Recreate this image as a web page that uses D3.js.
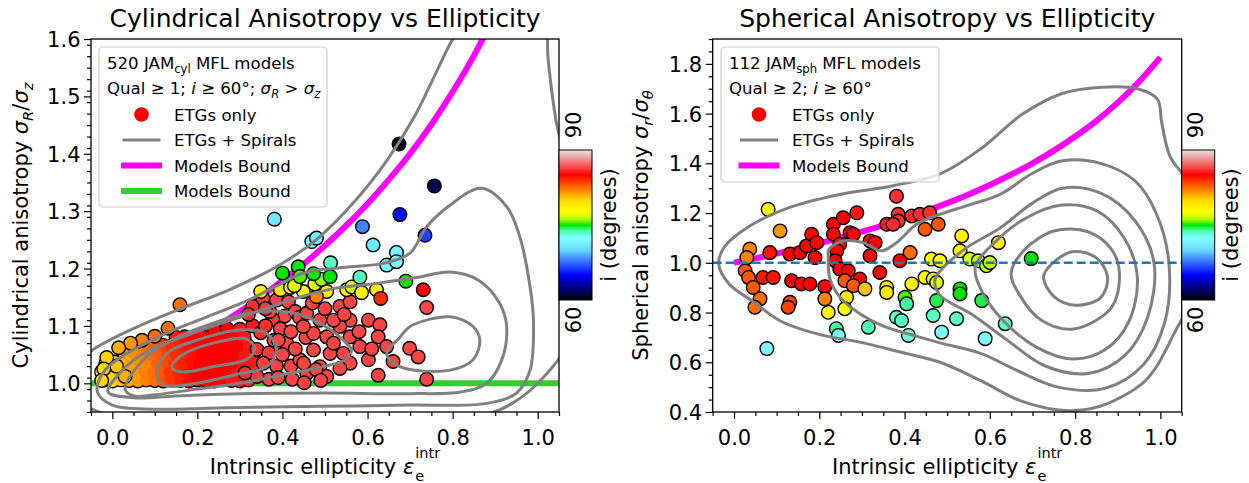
<!DOCTYPE html>
<html><head><meta charset="utf-8">
<script src="https://cdn.jsdelivr.net/npm/d3@7/dist/d3.min.js"></script>
<style>
html,body{margin:0;padding:0;background:#fff;}
text{font-family:"DejaVu Sans",sans-serif;fill:#000;}
</style></head>
<body><svg id="chart" width="1249" height="483" xmlns="http://www.w3.org/2000/svg"></svg>
<script>
// ---------------- DATA ----------------
const xTickVals = [0.0, 0.2, 0.4, 0.6, 0.8, 1.0];
const cylYTicks = [1.0, 1.1, 1.2, 1.3, 1.4, 1.5, 1.6];
const sphYTicks = [0.4, 0.6, 0.8, 1.0, 1.2, 1.4, 1.6, 1.8];
const cbarTicks = [60, 90];

// "sauron" colour map (inclination 60..90 deg)
const cmapPos = [1.0, 43.5, 86.0, 106.0, 118.5, 128.5, 138.5, 151.0, 171.0, 213.5, 256.0];
const cmapR = [0.01, 0.0, 0.4, 0.5, 0.3, 0.0, 0.7, 1.0, 1.0, 1.0, 0.9];
const cmapG = [0.01, 0.0, 0.85, 1.0, 1.0, 0.9, 1.0, 1.0, 0.85, 0.0, 0.9];
const cmapB = [0.01, 1.0, 1.0, 1.0, 0.7, 0.0, 0.0, 0.0, 0.0, 0.0, 0.9];

// Models bound curve
const boundEps   = [0.00, 0.05, 0.10, 0.15, 0.20, 0.25, 0.30, 0.35, 0.40, 0.45, 0.50, 0.55, 0.60, 0.65, 0.70, 0.75, 0.80, 0.85, 0.90, 0.95, 1.00];
const boundRatio = [1.000, 1.018, 1.037, 1.057, 1.078, 1.101, 1.125, 1.151, 1.179, 1.208, 1.240, 1.275, 1.313, 1.355, 1.400, 1.451, 1.508, 1.571, 1.644, 1.728, 1.826];

// Cylindrical panel: [eps, sigmaR/sigmaz, inclination]
const cylBlob = [
 [-0.02,1.006,80],[0.0,1.004,80],[0.02,1.006,80.5],[0.04,1.005,81],[0.06,1.004,81.5],[0.08,1.006,82],[0.10,1.005,82.5],[0.12,1.004,83.3],[0.14,1.006,83.8],[0.16,1.005,84.3],[0.18,1.004,84.7],[0.20,1.006,85],[0.22,1.005,85],[0.24,1.004,85],[0.26,1.006,85],[0.28,1.005,85.5],[0.30,1.004,85.5],[0.32,1.006,86],
 [-0.025,1.02,80],[-0.005,1.022,80],[0.015,1.02,80.5],[0.035,1.021,81],[0.055,1.02,81.5],[0.075,1.022,82],[0.095,1.02,82.5],[0.115,1.021,83],[0.135,1.02,83.8],[0.155,1.022,84.3],[0.175,1.02,84.7],[0.195,1.021,85],[0.215,1.02,85],[0.235,1.022,85],[0.255,1.02,85],[0.275,1.021,85],[0.295,1.02,85.5],[0.315,1.022,85.5],[0.335,1.02,86],
 [-0.015,1.035,80],[0.005,1.037,80.5],[0.025,1.036,81],[0.045,1.035,81.3],[0.065,1.037,81.7],[0.085,1.036,82],[0.105,1.035,82.8],[0.125,1.037,83.3],[0.145,1.036,83.8],[0.165,1.035,84.3],[0.185,1.037,84.7],[0.205,1.036,85],[0.225,1.035,85],[0.245,1.037,85],[0.265,1.036,85],[0.285,1.035,85],[0.305,1.037,85.5],[0.325,1.036,85.5],
 [0.03,1.05,81.3],[0.05,1.052,81.7],[0.07,1.051,82],[0.09,1.05,82.5],[0.11,1.052,83],[0.13,1.051,83.5],[0.15,1.05,84],[0.17,1.052,84.3],[0.19,1.051,84.7],[0.21,1.05,85],[0.23,1.052,85],[0.25,1.051,85],[0.27,1.05,85],[0.29,1.052,85],[0.31,1.051,85.5],[0.33,1.05,85.5],
 [0.08,1.065,82.5],[0.10,1.067,83],[0.12,1.066,83.5],[0.14,1.065,84],[0.16,1.067,84.3],[0.18,1.066,84.7],[0.20,1.065,85],[0.22,1.067,85],[0.24,1.066,85],[0.26,1.065,85],[0.28,1.067,85],[0.30,1.066,85],[0.32,1.065,85.5],
 [0.15,1.08,84.3],[0.17,1.081,84.7],[0.19,1.08,85],[0.21,1.082,85],[0.23,1.08,85],[0.25,1.081,85],[0.27,1.08,85],[0.29,1.082,85],[0.31,1.08,85.5],
 [0.24,1.094,85],[0.27,1.095,85],[0.30,1.094,85.5],[0.33,1.1,85.5]
];
const cylEdge = [[0.10,1.082,82.5],[0.07,1.075,82],[0.043,1.07,81.5],[0.015,1.062,81],[0.03,1.012,81],[0.01,1.03,80.5],[-0.013,1.045,80],[-0.02,1.025,80],[-0.025,1.005,80]];
const cylSalmon = [
 [0.33,1.134,86],[0.354,1.148,86.3],[0.386,1.145,86.5],[0.414,1.142,86.5],[0.405,1.117,86.5],[0.377,1.111,86.3],[0.349,1.088,86],[0.36,1.1,86],
 [0.34,1.059,86],[0.368,1.053,86.3],[0.386,1.03,86.5],[0.368,1.007,86.5],[0.34,1.012,86.3],[0.312,1.018,86],[0.423,1.007,86.5],[0.41,1.07,86.5],
 [0.37,1.125,86.3],[0.395,1.095,86.5],[0.43,1.125,86.5],[0.455,1.08,86.5],[0.40,1.05,86.5],[0.42,1.03,86.5],[0.38,1.075,86.5],[0.355,1.035,86.3],
 [0.39,1.01,86.5],[0.32,1.12,86],[0.36,1.13,86.3],
 [0.42,1.09,86.5],[0.44,1.115,86.5],[0.457,1.122,86.5],[0.488,1.110,86.5],[0.535,1.134,86.5],[0.559,1.142,86.5],[0.559,1.110,86.5],[0.602,1.110,86.5],
 [0.629,1.102,86.5],[0.625,1.081,86.5],[0.645,1.064,86.5],[0.66,1.038,86.5],[0.699,1.061,86.5],[0.719,1.046,86.5],[0.625,1.014,86.5],[0.739,1.007,86.5],
 [0.602,1.041,86.5],[0.582,1.064,86.5],[0.559,1.081,86.5],[0.535,1.099,86.5],[0.504,1.081,86.5],[0.473,1.087,86.5],[0.449,1.099,86.5],[0.473,1.058,86.5],
 [0.512,1.052,86.5],[0.543,1.052,86.5],[0.559,1.035,86.5],[0.535,1.026,86.5],[0.488,1.029,86.5],[0.457,1.017,86.5],[0.441,1.041,86.5],[0.504,1.012,86.5],
 [0.739,1.132,86.5],[0.451,1.001,86.5],[0.479,1.024,86.5],[0.39,1.075,86.5],[0.43,1.06,86.5],[0.45,1.035,86.5],[0.47,1.14,86.5],[0.5,1.13,86.5],[0.52,1.11,86.5],
 [0.49,1.005,86.5],[0.52,1.07,86.5],[0.545,1.12,86.5],[0.58,1.09,86.5],[0.61,1.06,86.5]
];
const cylColor = [
 [0.159,1.137,82.5],[0.131,1.096,82.5],
 [0.349,1.16,78.5],[0.395,1.163,79],[0.419,1.167,78],[0.449,1.16,78],[0.504,1.16,78.5],[0.551,1.163,78],[0.563,1.168,77],[0.586,1.158,78.5],[0.621,1.163,79],
 [0.48,1.151,82],[0.631,1.148,84],
 [0.428,1.17,77],[0.476,1.173,77],[0.492,1.181,76],
 [0.40,1.192,75],[0.437,1.203,75],[0.441,1.186,75.5],[0.473,1.191,75],[0.512,1.186,75],[0.69,1.178,75],
 [0.513,1.21,73.5],[0.582,1.185,73.5],
 [0.381,1.286,71],[0.469,1.247,71.5],[0.48,1.253,71.5],[0.613,1.241,71],[0.668,1.228,71.5],[0.645,1.206,71.5],[0.668,1.212,71.5],
 [0.588,1.273,68],[0.735,1.258,66.5],[0.676,1.294,65.3],
 [0.757,1.344,61.5],[0.674,1.417,60.3],
 [0.731,1.163,85]
];

// Spherical panel: [eps, sigma_r/sigma_theta, inclination]
const sphPts = [
 [0.037,1.055,82],[0.030,1.021,82],[0.026,0.968,83],[0.034,0.941,83],[0.045,0.901,83],[0.061,0.855,82.5],[0.049,0.821,82.5],
 [0.084,1.041,84.5],[0.068,0.941,84.5],[0.092,0.941,84.5],[0.108,1.128,81.5],
 [0.131,1.035,85],[0.155,1.041,85],[0.135,0.928,85],[0.158,0.915,85],[0.178,0.915,85],[0.213,0.904,85],
 [0.131,0.841,83.5],[0.127,0.821,83.5],
 [0.170,1.068,85],[0.182,1.115,85],[0.194,1.081,85],[0.190,1.021,85],
 [0.233,1.155,85],[0.233,1.115,85],[0.256,1.181,85],[0.288,1.201,85.5],[0.272,1.121,85],[0.280,1.115,85],
 [0.248,1.075,85],[0.241,1.048,85],[0.237,1.008,85],[0.248,0.975,85],[0.268,0.968,85],[0.295,0.935,85],
 [0.260,0.928,83],[0.280,0.908,83],[0.213,0.855,82],
 [0.319,1.088,85],[0.331,1.081,85],[0.319,1.028,85],[0.342,0.961,85],
 [0.358,1.155,85.5],[0.381,1.268,86],[0.385,1.195,86],[0.385,1.168,86],[0.373,1.155,86],[0.417,1.188,86],[0.436,1.195,86],[0.459,1.201,86],
 [0.448,1.135,83],[0.479,1.155,83],[0.413,1.041,82.5],[0.389,1.008,85],
 [0.080,1.215,78],[0.307,0.895,80.5],[0.264,0.861,79],[0.260,0.815,77.5],[0.221,0.801,78],
 [0.358,0.901,79],[0.358,0.881,79],[0.417,0.915,78.5],[0.448,0.941,78],[0.467,0.935,77],[0.475,0.921,77],
 [0.463,1.015,78.5],[0.483,1.008,78],[0.534,1.108,78.5],[0.530,1.048,78],[0.553,1.015,77],[0.573,1.008,76.5],[0.592,0.988,76.5],[0.600,1.001,76.5],[0.620,1.081,78.5],
 [0.401,0.861,75.5],[0.405,0.835,74],[0.475,0.848,74.5],[0.530,0.895,75],[0.530,0.875,75],[0.581,0.848,74.5],[0.697,1.017,75],
 [0.381,0.781,73.5],[0.393,0.768,73.5],[0.315,0.741,73.8],[0.240,0.735,74],[0.245,0.708,72.5],[0.467,0.788,73.5],[0.409,0.708,73],[0.487,0.721,72.5],[0.522,0.775,73.5],[0.589,0.695,72.5],[0.636,0.755,73.5],[0.077,0.655,72]
];

// KDE contours of ETGs + Spirals (closed paths, data coordinates)
const cylContours = [
 [[-0.10,1.02],[-0.05,1.056],[0.043,1.093],[0.154,1.128],[0.275,1.163],[0.386,1.203],[0.479,1.25],[0.572,1.319],[0.646,1.389],[0.711,1.466],[0.757,1.535],[0.80,1.60],[0.86,1.67],[0.95,1.70],[1.012,1.66],[1.025,1.56],[1.045,1.45],[1.08,1.35],[1.11,1.2],[1.08,1.08],[1.0,1.0],[0.94,0.965],[0.88,0.946],[0.7,0.93],[0.45,0.925],[0.2,0.93],[0.02,0.94],[-0.06,0.96],[-0.10,0.99]],
 [[-0.035,0.985],[-0.02,1.02],[0.03,1.05],[0.12,1.085],[0.22,1.115],[0.32,1.145],[0.40,1.175],[0.441,1.19],[0.48,1.197],[0.559,1.203],[0.637,1.209],[0.70,1.227],[0.739,1.273],[0.793,1.31],[0.868,1.34],[0.927,1.308],[0.958,1.255],[0.982,1.168],[0.99,1.11],[0.982,1.023],[0.95,0.983],[0.88,0.965],[0.7,0.962],[0.5,0.96],[0.3,0.958],[0.1,0.955],[0.0,0.962]],
 [[-0.01,0.985],[0.02,1.02],[0.08,1.055],[0.18,1.085],[0.3,1.115],[0.44,1.15],[0.52,1.165],[0.63,1.175],[0.72,1.185],[0.794,1.194],[0.86,1.18],[0.91,1.14],[0.927,1.099],[0.915,1.04],[0.88,1.0],[0.82,0.985],[0.7,0.982],[0.5,0.983],[0.3,0.982],[0.15,0.978],[0.05,0.975]],
 [[0.03,0.99],[0.06,1.03],[0.112,1.064],[0.237,1.105],[0.35,1.125],[0.44,1.12],[0.51,1.095],[0.55,1.07],[0.563,1.058],[0.545,1.04],[0.5,1.03],[0.4,1.015],[0.3,1.0],[0.2,0.99],[0.1,0.98],[0.05,0.978]],
 [[0.645,1.052],[0.676,1.08],[0.70,1.099],[0.794,1.116],[0.848,1.099],[0.864,1.075],[0.848,1.041],[0.794,1.023],[0.676,1.029]],
 [[0.104,1.017],[0.128,1.052],[0.198,1.075],[0.3,1.093],[0.363,1.087],[0.386,1.058],[0.363,1.029],[0.3,1.017],[0.198,1.0],[0.12,0.997]],
 [[0.14,1.028],[0.16,1.047],[0.237,1.07],[0.316,1.077],[0.335,1.06],[0.316,1.042],[0.237,1.029],[0.16,1.02]]
];
const sphContours = [
 [[-0.036,0.997],[-0.022,1.065],[0.035,1.146],[0.129,1.222],[0.251,1.276],[0.373,1.31],[0.486,1.36],[0.58,1.46],[0.674,1.595],[0.768,1.68],[0.862,1.706],[0.946,1.70],[0.993,1.658],[1.003,1.564],[1.022,1.43],[1.06,1.33],[1.09,1.1],[1.07,0.85],[1.032,0.715],[0.99,0.58],[0.956,0.512],[0.862,0.425],[0.787,0.405],[0.674,0.444],[0.58,0.525],[0.486,0.598],[0.392,0.64],[0.298,0.68],[0.204,0.71],[0.11,0.765],[0.044,0.845],[-0.012,0.916]],
 [[0.221,1.021],[0.223,1.055],[0.256,1.088],[0.303,1.081],[0.346,1.048],[0.381,1.081],[0.428,1.155],[0.467,1.185],[0.546,1.23],[0.624,1.275],[0.70,1.36],[0.77,1.41],[0.86,1.40],[0.94,1.33],[0.99,1.2],[1.02,1.0],[1.01,0.76],[0.96,0.59],[0.87,0.495],[0.76,0.50],[0.66,0.57],[0.58,0.635],[0.483,0.678],[0.428,0.705],[0.35,0.745],[0.295,0.795],[0.249,0.861],[0.225,0.935]],
 [[0.471,0.93],[0.491,0.981],[0.546,1.061],[0.624,1.14],[0.70,1.24],[0.77,1.30],[0.86,1.28],[0.94,1.17],[0.985,1.0],[0.97,0.78],[0.915,0.625],[0.83,0.555],[0.73,0.585],[0.64,0.69],[0.560,0.79],[0.483,0.87]],
 [[0.566,0.984],[0.61,1.08],[0.68,1.175],[0.768,1.232],[0.85,1.21],[0.915,1.1],[0.946,0.943],[0.925,0.76],[0.87,0.65],[0.796,0.613],[0.71,0.66],[0.63,0.77],[0.58,0.89]],
 [[0.65,0.957],[0.68,1.05],[0.75,1.128],[0.83,1.125],[0.885,1.055],[0.904,0.957],[0.885,0.82],[0.796,0.734],[0.72,0.77],[0.67,0.87]],
 [[0.726,0.943],[0.745,0.995],[0.796,1.045],[0.85,1.02],[0.876,0.943],[0.86,0.86],[0.801,0.829],[0.75,0.865]]
];

// ---------------- RENDER ----------------
const FS = 21;       // tick / axis label font size
const LFS = 16.6;    // legend font size
const svg = d3.select("#chart");
const defs = svg.append("defs");
const toRGB = i => d3.rgb(cmapR[i]*255, cmapG[i]*255, cmapB[i]*255);
const color = d3.scaleLinear()
  .domain(cmapPos.map(p => 60 + (p - 1) / 255 * 30))
  .range(cmapPos.map((p, i) => toRGB(i)))
  .interpolate(d3.interpolateRgb).clamp(true);

const grad = defs.append("linearGradient").attr("id", "sauron")
  .attr("x1", 0).attr("y1", 1).attr("x2", 0).attr("y2", 0);
cmapPos.forEach((p, i) => grad.append("stop").attr("offset", (p - 1) / 255).attr("stop-color", toRGB(i)));

function rich(textSel, segs, fs) {
  let shift = 0;
  segs.forEach(s => {
    const ts = textSel.append("tspan").text(s.t);
    const target = s.sub ? fs * 0.25 : (s.sup ? -fs * 0.4 : 0);
    if (target !== shift) { ts.attr("dy", target - shift); shift = target; }
    if (s.sub || s.sup) ts.attr("font-size", fs * 0.7);
    if (s.it) ts.attr("font-style", "italic");
  });
}

function panel(cfg) {
  const g = svg.append("g");
  const x = d3.scaleLinear().domain([-0.05, 1.05]).range([cfg.x0, cfg.x1]);
  const y = d3.scaleLinear().domain(cfg.yDom).range([cfg.y1, cfg.y0]);
  const clipId = cfg.id + "-clip";
  defs.append("clipPath").attr("id", clipId).append("rect")
    .attr("x", cfg.x0).attr("y", cfg.y0).attr("width", cfg.x1 - cfg.x0).attr("height", cfg.y1 - cfg.y0);
  const plot = g.append("g").attr("clip-path", `url(#${clipId})`);

  // model bound
  const boundLine = d3.line().x(d => x(d[0])).y(d => y(d[1])).curve(d3.curveMonotoneX);
  plot.append("path").datum(boundEps.map((e, i) => [e, boundRatio[i]]))
    .attr("d", boundLine).attr("fill", "none").attr("stroke", "#ff00ff").attr("stroke-width", 6);
  if (cfg.green) {
    plot.append("line").attr("x1", x(-0.05)).attr("x2", x(1.05)).attr("y1", y(1)).attr("y2", y(1))
      .attr("stroke", "#32cd32").attr("stroke-width", 6);
  }
  const R = 6.8;
  if (cfg.blob) {
    plot.append("g").selectAll("circle").data(cfg.blob).join("circle")
      .attr("cx", d => x(d[0])).attr("cy", d => y(d[1])).attr("r", R)
      .attr("fill", d => color(d[2])).attr("stroke", "#000").attr("stroke-width", 1.4);
    plot.append("g").selectAll("circle").data(cfg.blob).join("circle")
      .attr("cx", d => x(d[0])).attr("cy", d => y(d[1])).attr("r", R - 0.7)
      .attr("fill", d => color(d[2]));
  }
  cfg.points.forEach(arr => {
    plot.append("g").selectAll("circle").data(arr).join("circle")
      .attr("cx", d => x(d[0])).attr("cy", d => y(d[1])).attr("r", R)
      .attr("fill", d => color(d[2])).attr("stroke", "#000").attr("stroke-width", 1.4);
  });
  const cLine = d3.line().x(d => x(d[0])).y(d => y(d[1])).curve(d3.curveCatmullRomClosed.alpha(0.5));
  plot.append("g").selectAll("path").data(cfg.contours).join("path")
    .attr("d", cLine).attr("fill", "none").attr("stroke", "#808080").attr("stroke-width", 3)
    .attr("stroke-linejoin", "round");
  if (cfg.dashed) {
    plot.append("line").attr("x1", x(-0.05)).attr("x2", x(1.05)).attr("y1", y(1)).attr("y2", y(1))
      .attr("stroke", "#1f77b4").attr("stroke-width", 2.6).attr("stroke-dasharray", "9,4");
  }

  // axes
  const fmt = d3.format(".1f");
  const xMinor = d3.range(-0.05, 1.0501, 0.05).map(v => +v.toFixed(2)).filter(v => !xTickVals.some(t => Math.abs(t - v) < 1e-6));
  const yMinor = d3.range(cfg.yDom[0], cfg.yDom[1] + 1e-6, cfg.minorStep).map(v => +v.toFixed(3))
    .filter(v => !cfg.yTicks.some(t => Math.abs(t - v) < 1e-6));
  const ax = g.append("g").attr("transform", `translate(0,${cfg.y1})`)
    .call(d3.axisBottom(x).tickValues(xTickVals).tickFormat(fmt).tickSize(7));
  ax.select(".domain").remove();
  ax.selectAll("text").attr("y", 33).attr("dy", 0).attr("font-size", FS).attr("font-family", '"DejaVu Sans", sans-serif');
  const axm = g.append("g").attr("transform", `translate(0,${cfg.y1})`)
    .call(d3.axisBottom(x).tickValues(xMinor).tickFormat("").tickSize(4));
  axm.select(".domain").remove();
  const ay = g.append("g").attr("transform", `translate(${cfg.x0},0)`)
    .call(d3.axisLeft(y).tickValues(cfg.yTicks).tickFormat(fmt).tickSize(7));
  ay.select(".domain").remove();
  ay.selectAll("text").attr("x", -10.5).attr("dy", "0.36em").attr("font-size", FS).attr("font-family", '"DejaVu Sans", sans-serif');
  const aym = g.append("g").attr("transform", `translate(${cfg.x0},0)`)
    .call(d3.axisLeft(y).tickValues(yMinor).tickFormat("").tickSize(4));
  aym.select(".domain").remove();
  g.selectAll(".tick line").attr("stroke-width", 1.2);

  // legend
  const L = cfg.legend;
  g.append("rect").attr("x", L.x).attr("y", L.y).attr("width", L.w).attr("height", L.h).attr("rx", 4)
    .attr("fill", "#fff").attr("fill-opacity", 0.8).attr("stroke", "#cccccc").attr("stroke-width", 1.2);
  L.title.forEach((segs, i) => {
    rich(g.append("text").attr("x", L.x + L.tx).attr("y", L.y + 22 + i * 24.5).attr("font-size", LFS), segs, LFS);
  });
  L.entries.forEach((e, i) => {
    const cy = L.y + 67.5 + i * 25.5;
    if (e.type === "marker") {
      g.append("circle").attr("cx", L.x + L.mx).attr("cy", cy).attr("r", 7.3).attr("fill", e.color);
    } else {
      g.append("line").attr("x1", L.x + L.mx - 17.5).attr("x2", L.x + L.mx + 17.5).attr("y1", cy).attr("y2", cy)
        .attr("stroke", e.color).attr("stroke-width", e.w).attr("stroke-linecap", "square");
    }
    g.append("text").attr("x", L.x + L.textx).attr("y", cy + 6).attr("font-size", LFS).text(e.label);
  });

  // spines
  g.append("rect").attr("x", cfg.x0).attr("y", cfg.y0).attr("width", cfg.x1 - cfg.x0).attr("height", cfg.y1 - cfg.y0)
    .attr("fill", "none").attr("stroke", "#000").attr("stroke-width", 1.3);

  // title
  g.append("text").attr("x", (cfg.x0 + cfg.x1) / 2).attr("y", 27).attr("text-anchor", "middle")
    .attr("font-size", 25).text(cfg.title);

  // x label with stacked sub/superscript
  const cx = (cfg.x0 + cfg.x1) / 2;
  const xl = g.append("text").attr("y", 474).attr("font-size", FS);
  xl.append("tspan").text("Intrinsic ellipticity ");
  xl.append("tspan").attr("font-style", "italic").text("\u03b5");
  const w = xl.node().getComputedTextLength();
  const sup = g.append("text").attr("y", 458).attr("font-size", 14.5).text("intr");
  const sub = g.append("text").attr("y", 481).attr("font-size", 14.5).text("e");
  const sw = sup.node().getComputedTextLength();
  const sx = cx - (w + 1 + sw) / 2;
  xl.attr("x", sx); sup.attr("x", sx + w + 1); sub.attr("x", sx + w + 1);

  // y label
  const yl = g.append("text").attr("transform", `translate(${cfg.ylx},${(cfg.y0 + cfg.y1) / 2}) rotate(-90)`)
    .attr("text-anchor", "middle").attr("font-size", FS);
  rich(yl, cfg.ylabel, FS);

  // colorbar
  const cb = cfg.cbar;
  const cbScale = d3.scaleLinear().domain([60, 90]).range([cb.y1, cb.y0]);
  g.append("rect").attr("x", cb.x).attr("y", cb.y0).attr("width", cb.w).attr("height", cb.y1 - cb.y0)
    .attr("fill", "url(#sauron)").attr("stroke", "#000").attr("stroke-width", 1);
  cbarTicks.forEach(t => {
    const ty = t === 90 ? cbScale(t) - 25 : cbScale(t) + 20;
    g.append("text").attr("transform", `translate(${cb.x + 14},${ty}) rotate(-90)`)
      .attr("text-anchor", "middle").attr("dy", "0.36em").attr("font-size", FS).text(t);
  });
  g.append("text").attr("transform", `translate(${cb.lx},${(cb.y0 + cb.y1) / 2}) rotate(-90)`)
    .attr("text-anchor", "middle").attr("font-size", FS).text("i (degrees)");
}

panel({
  id: "cyl", x0: 91, x1: 559, y0: 39, y1: 412, yDom: [0.95, 1.6], yTicks: cylYTicks, minorStep: 0.02,
  blob: cylBlob, points: [cylEdge, cylSalmon, cylColor], contours: cylContours, green: true, dashed: false,
  title: "Cylindrical Anisotropy vs Ellipticity",
  ylx: 28,
  ylabel: [{t: "Cylindrical anisotropy "}, {t: "\u03c3", it: 1}, {t: "R", it: 1, sub: 1}, {t: "/"}, {t: "\u03c3", it: 1}, {t: "z", it: 1, sub: 1}],
  legend: {x: 99, y: 47, w: 228, h: 160, tx: 8, mx: 42.5, textx: 75,
    title: [[{t: "520 JAM"}, {t: "cyl", sub: 1}, {t: " MFL models"}],
            [{t: "Qual \u2265 1; "}, {t: "i", it: 1}, {t: " \u2265 60\u00b0; "}, {t: "\u03c3", it: 1}, {t: "R", it: 1, sub: 1}, {t: " > "}, {t: "\u03c3", it: 1}, {t: "z", it: 1, sub: 1}]],
    entries: [{type: "marker", color: "#ff0000", label: "ETGs only"},
              {type: "line", color: "#808080", w: 3, label: "ETGs + Spirals"},
              {type: "line", color: "#ff00ff", w: 6, label: "Models Bound"},
              {type: "line", color: "#32cd32", w: 6, label: "Models Bound"}]},
  cbar: {x: 559, w: 33, y0: 150, y1: 300, lx: 616}
});

panel({
  id: "sph", x0: 712.7, x1: 1181.7, y0: 39, y1: 412, yDom: [0.4, 1.9], yTicks: sphYTicks, minorStep: 0.05,
  blob: null, points: [sphPts], contours: sphContours, green: false, dashed: true,
  title: "Spherical Anisotropy vs Ellipticity",
  ylx: 648,
  ylabel: [{t: "Spherical anisotropy "}, {t: "\u03c3", it: 1}, {t: "r", it: 1, sub: 1}, {t: "/"}, {t: "\u03c3", it: 1}, {t: "\u03b8", it: 1, sub: 1}],
  legend: {x: 721, y: 47, w: 218, h: 135, tx: 8, mx: 38, textx: 71,
    title: [[{t: "112 JAM"}, {t: "sph", sub: 1}, {t: " MFL models"}],
            [{t: "Qual \u2265 2; "}, {t: "i", it: 1}, {t: " \u2265 60\u00b0"}]],
    entries: [{type: "marker", color: "#ff0000", label: "ETGs only"},
              {type: "line", color: "#808080", w: 3, label: "ETGs + Spirals"},
              {type: "line", color: "#ff00ff", w: 6, label: "Models Bound"}]},
  cbar: {x: 1181.7, w: 33, y0: 150, y1: 300, lx: 1238}
});
</script>
</body></html>
